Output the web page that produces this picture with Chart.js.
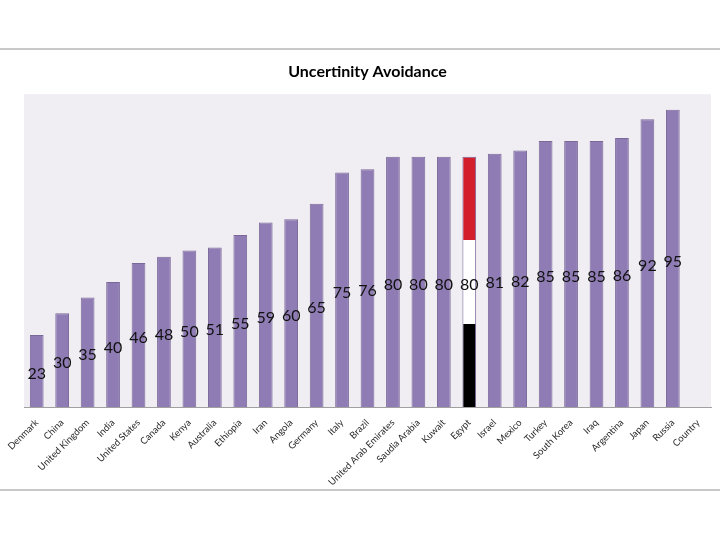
<!DOCTYPE html>
<html>
<head>
<meta charset="utf-8">
<script src="https://cdn.jsdelivr.net/npm/chart.js@4.4.1/dist/chart.umd.min.js"></script>
<style>
  html, body { margin: 0; padding: 0; background: #fff; }
  #wrap { position: relative; width: 720px; height: 540px; }
  .rule { position: absolute; left: 0; width: 720px; height: 0; border-top: 2px solid #c8c8c8; }
</style>
</head>
<body>
<div id="wrap">
  <div class="rule" style="top:48px"></div>
  <div class="rule" style="top:489px"></div>
  <canvas id="plot" width="720" height="540"></canvas>
</div>
<script>
const countries = ["Denmark", "China", "United Kingdom", "India", "United States", "Canada", "Kenya",
  "Australia", "Ethiopia", "Iran", "Angola", "Germany", "Italy", "Brazil", "United Arab Emirates",
  "Saudia Arabia", "Kuwait", "Egypt", "Israel", "Mexico", "Turkey", "South Korea", "Iraq",
  "Argentina", "Japan", "Russia", "Country"];
const scores = [23, 30, 35, 40, 46, 48, 50, 51, 55, 59, 60, 65, 75, 76, 80, 80, 80, 80, 81, 82,
  85, 85, 85, 86, 92, 95, null];
const highlight = "Egypt";

const purple = "#8f7cb4";
const purpleEdge = "#7a6899";

// plot background
const plotBg = {
  id: 'plotBg',
  beforeDraw(chart) {
    const {ctx, chartArea: a} = chart;
    ctx.save();
    ctx.fillStyle = "#f0eef3";
    ctx.fillRect(a.left, a.top, a.right - a.left, a.bottom - a.top);
    ctx.restore();
  }
};

// value written in the middle of each bar
const barValues = {
  id: 'barValues',
  afterDatasetsDraw(chart) {
    const ctx = chart.ctx;
    const meta = chart.getDatasetMeta(0);
    ctx.save();
    ctx.font = "16px Lato";
    ctx.fillStyle = "#111";
    ctx.textAlign = "center";
    ctx.textBaseline = "middle";
    meta.data.forEach((bar, i) => {
      let v = scores[i];
      if (v == null) return;
      ctx.fillText(v, bar.x, (bar.y + bar.base) / 2 + 3);
    });
    ctx.restore();
  }
};

function barColor(c) {
  if (countries[c.dataIndex] !== highlight) return purple;
  let chart = c.chart;
  if (!chart.chartArea) return purple;
  let y = chart.scales.y;
  let top = y.getPixelForValue(scores[c.dataIndex]);
  let bottom = y.getPixelForValue(0);
  let g = chart.ctx.createLinearGradient(0, top, 0, bottom);
  g.addColorStop(0, "#d21f2b");
  g.addColorStop(1 / 3, "#d21f2b");
  g.addColorStop(1 / 3, "#ffffff");
  g.addColorStop(2 / 3, "#ffffff");
  g.addColorStop(2 / 3, "#000000");
  g.addColorStop(1, "#000000");
  return g;
}

const config = {
  type: 'bar',
  data: {
    labels: countries,
    datasets: [{
      data: scores,
      backgroundColor: barColor,
      borderColor: purpleEdge,
      borderWidth: 1,
      categoryPercentage: 1,
      barPercentage: 0.54
    }]
  },
  options: {
    responsive: false,
    animation: false,
    layout: { padding: { left: 24, right: 9, top: 0, bottom: 0 } },
    plugins: {
      legend: { display: false },
      tooltip: { enabled: false },
      title: {
        display: true,
        text: "Uncertinity Avoidance",
        color: "#000",
        font: { family: "Lato", size: 16, weight: "bold", lineHeight: 1.2 },
        padding: { top: 62, bottom: 13 }
      }
    },
    scales: {
      x: {
        grid: { display: false },
        border: { display: true, color: "#a0a0a0", width: 1 },
        ticks: {
          color: "#2a2a2a",
          font: { family: "Lato", size: 9.5 },
          minRotation: 45,
          maxRotation: 45,
          autoSkip: false,
          padding: 2
        },
        afterFit(scale) { scale.height = 133; }
      },
      y: {
        display: false,
        min: 0,
        max: 100
      }
    }
  },
  plugins: [plotBg, barValues]
};

new Chart(document.getElementById("plot").getContext('2d'), config);
</script>
</body>
</html>
